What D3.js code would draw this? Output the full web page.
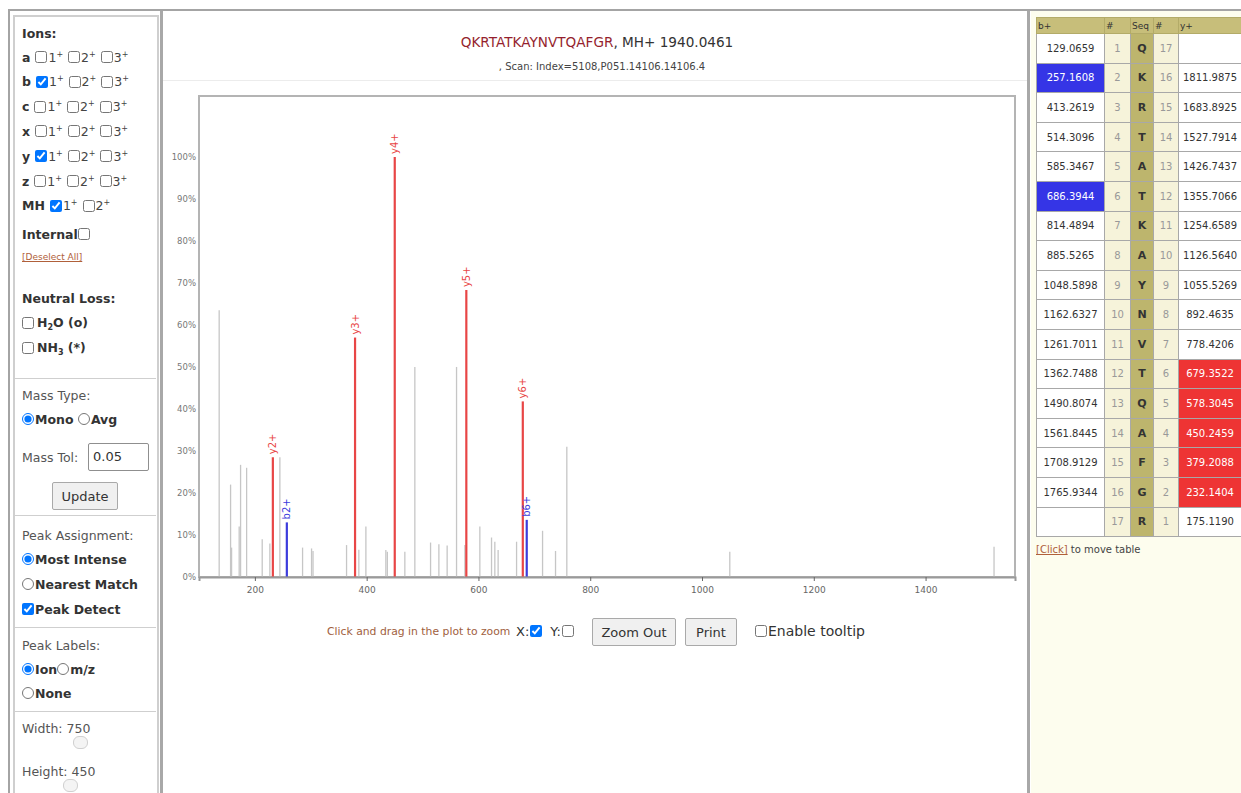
<!DOCTYPE html>
<html><head><meta charset="utf-8">
<script src="https://cdn.jsdelivr.net/npm/d3@7"></script>
<style>
body{margin:0;width:1241px;height:793px;overflow:hidden;background:#fff;font-family:"DejaVu Sans",sans-serif;position:relative;color:#333;}
.abs{position:absolute;}
.row{position:absolute;left:22px;height:18px;display:flex;align-items:center;font-size:12.5px;white-space:nowrap;}
.row input[type=checkbox],.row input[type=radio]{width:12px;height:12px;margin:0 1px 0 0;}
.b{font-weight:bold;}
sup{font-size:8px;vertical-align:5px;margin-right:5px;}
sub{font-size:8px;vertical-align:-3px;}
.div{position:absolute;left:14px;width:142px;height:0;border-top:1px solid #cfcfcf;}
.btn{position:absolute;border:1px solid #a9a9a9;border-radius:2px;background:#f0f0f0;font-size:13px;display:flex;align-items:center;justify-content:center;color:#333;}
#tablewrap{position:absolute;left:1036px;top:17px;width:205px;height:530px;overflow:hidden;}
table.frag{border-collapse:collapse;table-layout:fixed;font-size:10px;width:205px;}
table.frag td{border:1px solid #a8a8a8;text-align:center;padding:0;height:28.6px;overflow:hidden;white-space:nowrap;}
table.frag tr.hd td{height:15px;background:#c7be7a;text-align:left;font-size:9px;border-color:#b3ab68;padding-left:1px;}
td.num{background:#f6f3da;color:#999;}
td.seq{background:#bdb56d;font-weight:bold;font-size:11px;color:#333;}
td.mass{background:#fff;color:#333;}
td.hb{background:#3535e6;color:#fff;}
td.hy{background:#ee3434;color:#fff;}
.knob{position:absolute;width:13px;height:11px;border:1px solid #d0d0d0;border-radius:6px;background:#f4f4f4;}
</style></head><body>

<!-- frame -->
<div class="abs" style="left:8px;top:9px;width:1240px;height:790px;border-top:2px solid #a4a4a4;border-left:2px solid #a4a4a4;"></div>
<div class="abs" style="left:1031px;top:11px;width:210px;height:782px;background:#fdfdee;"></div>
<div class="abs" style="left:160px;top:11px;width:3px;height:782px;background:#a8a8a8;"></div>
<div class="abs" style="left:1027px;top:11px;width:3px;height:782px;background:#a8a8a8;"></div>
<div class="abs" style="left:13px;top:15px;width:142px;height:790px;border:2px solid #cfcfcf;"></div>

<!-- left panel -->
<div class="row b" style="top:24px;">Ions:</div>
<div id="ionrows"></div>
<div class="row b" style="top:225px;">Internal<input type="checkbox"></div>
<div class="row" style="top:248px;font-size:9px;color:#b0603a;text-decoration:underline;">[Deselect All]</div>
<div class="row b" style="top:289px;">Neutral Loss:</div>
<div class="row b" style="top:314px;"><input type="checkbox" style="margin-right:3px"><span>H<sub>2</sub>O (o)</span></div>
<div class="row b" style="top:339px;"><input type="checkbox" style="margin-right:3px"><span>NH<sub>3</sub> (*)</span></div>
<div class="div" style="top:378px;"></div>
<div class="row" style="top:386px;color:#555;">Mass Type:</div>
<div class="row b" style="top:410px;"><input type="radio" name="mt" checked>Mono&nbsp;<input type="radio" name="mt">Avg</div>
<div class="row" style="top:448px;color:#555;">Mass Tol:</div>
<div class="abs" style="left:88px;top:443px;border:1px solid #8f8f8f;border-radius:2px;font-size:13px;line-height:26px;padding-left:4px;box-sizing:border-box;width:61px;height:28px;">0.05</div>
<div class="btn" style="left:52px;top:482px;width:64px;height:26px;">Update</div>
<div class="div" style="top:515px;"></div>
<div class="row" style="top:526px;color:#555;">Peak Assignment:</div>
<div class="row b" style="top:550px;"><input type="radio" name="pa" checked>Most Intense</div>
<div class="row b" style="top:575px;"><input type="radio" name="pa">Nearest Match</div>
<div class="row b" style="top:600px;"><input type="checkbox" checked>Peak Detect</div>
<div class="div" style="top:627px;"></div>
<div class="row" style="top:636px;color:#555;">Peak Labels:</div>
<div class="row b" style="top:660px;"><input type="radio" name="pl" checked>Ion<input type="radio" name="pl">m/z</div>
<div class="row b" style="top:684px;"><input type="radio" name="pl">None</div>
<div class="div" style="top:711px;"></div>
<div class="row" style="top:719px;color:#555;">Width: 750</div>
<div class="knob" style="left:73px;top:736px;"></div>
<div class="row" style="top:762px;color:#555;">Height: 450</div>
<div class="knob" style="left:63px;top:779px;"></div>

<svg id="chart" class="abs" style="left:0;top:0;" width="1241" height="793"></svg>

<!-- controls under plot -->
<div class="abs" style="left:327px;top:622px;height:18px;display:flex;align-items:center;font-size:10.8px;color:#a0603e;white-space:nowrap;">Click and drag in the plot to zoom</div>
<div class="abs" style="left:516px;top:622px;height:18px;display:flex;align-items:center;font-size:13px;color:#333;white-space:nowrap;">X:<input type="checkbox" checked style="width:12px;height:12px;margin:0 8px 0 1px;">Y:<input type="checkbox" style="width:12px;height:12px;margin:0 0 0 1px;"></div>
<div class="btn" style="left:592px;top:618px;width:82px;height:26px;">Zoom Out</div>
<div class="btn" style="left:685px;top:618px;width:50px;height:26px;">Print</div>
<div class="abs" style="left:755px;top:622px;height:18px;display:flex;align-items:center;font-size:14px;color:#333;white-space:nowrap;"><input type="checkbox" style="width:12px;height:12px;margin:0 1px 0 0;">Enable tooltip</div>

<div id="tablewrap"><table class="frag" id="frag"></table></div>
<div class="abs" style="left:1036px;top:544px;font-size:10px;color:#444;white-space:nowrap;"><span style="color:#b0603a;text-decoration:underline;">[Click]</span> to move table</div>

<script>
// ---------- data ----------
const sequence = ["Q","K","R","T","A","T","K","A","Y","N","V","T","Q","A","F","G","R"];
const bIons = [129.0659,257.1608,413.2619,514.3096,585.3467,686.3944,814.4894,885.5265,1048.5898,1162.6327,1261.7011,1362.7488,1490.8074,1561.8445,1708.9129,1765.9344,null];
const yIons = [null,1811.9875,1683.8925,1527.7914,1426.7437,1355.7066,1254.6589,1126.5640,1055.5269,892.4635,778.4206,679.3522,578.3045,450.2459,379.2088,232.1404,175.1190];
const matchedB = [2,6];          // b ion numbers matched
const matchedY = [2,3,4,5,6];    // y ion numbers matched

const peakMz  = [136.1,156.5,158.3,171.9,174.4,185.2,213.1,226.8,244.7,285.3,301.4,304.0,364.0,386.0,398.6,434.3,437.0,468.3,486.2,514.3,529.2,544.0,560.8,575.7,602.5,623.4,629.3,635.2,668.2,714.7,737.9,758.1,1049.7,1522.5];
const peakInt = [63.5,22,7,12,26.7,26,9,8,28.5,7,6.8,6.2,7.6,6.5,12,6.4,6,6,50,8.2,7.8,7.5,50,7.6,12,9.4,8.4,6.4,8.4,11,6.2,31,6,7.2];

const ionLabels = ["y2+","b2+","y3+","y4+","y5+","y6+","b6+"];
const ionMz     = [232.1404,257.1608,379.2088,450.2459,578.3045,679.3522,686.3944];
const ionInt    = [28.5,13,57,100,68.3,41.8,13.6];
const ionType   = ["y","b","y","y","y","y","b"];

const xTicks = [200,400,600,800,1000,1200,1400];
const yTicks = [0,10,20,30,40,50,60,70,80,90,100];

const ionSeries = ["a","b","c","x","y","z"];
const ionChecked = {b:[1],y:[1]};

// ---------- left panel ion rows ----------
const rowsDiv = d3.select("#ionrows");
ionSeries.concat(["MH"]).forEach((s,i)=>{
  const r = rowsDiv.append("div").attr("class","row").style("top",(48+i*24.8)+"px");
  r.append("span").attr("class","b").style("margin-right","5px").text(s);
  const charges = s==="MH"?[1,2]:[1,2,3];
  charges.forEach(c=>{
    const cb = r.append("input").attr("type","checkbox");
    if((s==="MH"&&c===1)||(ionChecked[s]&&ionChecked[s].includes(c))) cb.property("checked",true);
    r.append("span").style("color","#444").html(c+"<sup>+</sup>");
  });
});

// ---------- chart ----------
const svg = d3.select("#chart");
const x = d3.scaleLinear().domain([100,1560]).range([199,1015]);
const y = d3.scaleLinear().domain([0,114.5]).range([577,96]);
const color = {b:"#3c3cdc", y:"#e84646"};

// title
const t = svg.append("text").attr("x",597).attr("y",47).attr("text-anchor","middle")
  .style("font-size","13.6px");
t.append("tspan").attr("fill","#951f2e").text(sequence.join(""));
t.append("tspan").attr("fill","#333").text(", MH+ 1940.0461");
svg.append("text").attr("x",602).attr("y",70).attr("text-anchor","middle")
  .style("font-size","10px").attr("fill","#444").text(", Scan: Index=5108,P051.14106.14106.4");
svg.append("line").attr("x1",163).attr("x2",1027).attr("y1",80.5).attr("y2",80.5).attr("stroke","#ececec");

// frame
svg.append("rect").attr("x",x.range()[0]).attr("y",y.range()[1]).attr("width",x.range()[1]-x.range()[0])
  .attr("height",y.range()[0]-y.range()[1]).attr("fill","#fff").attr("stroke","#b4b4b4").attr("stroke-width",2);

// gray peaks
svg.append("g").selectAll("line").data(peakMz).join("line")
  .attr("x1",d=>x(d)).attr("x2",d=>x(d)).attr("y1",y(0)).attr("y2",(d,i)=>y(peakInt[i]))
  .attr("stroke","#c6c6c6").attr("stroke-width",1.3);

// matched peaks
const ions = ionMz.map((m,i)=>({mz:m,int:ionInt[i],label:ionLabels[i],type:ionType[i]}));
svg.append("g").selectAll("line").data(ions).join("line")
  .attr("x1",d=>x(d.mz)).attr("x2",d=>x(d.mz)).attr("y1",y(0)).attr("y2",d=>y(d.int))
  .attr("stroke",d=>color[d.type]).attr("stroke-width",2.2);
svg.append("g").selectAll("text").data(ions).join("text")
  .attr("transform",d=>`translate(${x(d.mz)},${y(d.int)-3}) rotate(-90)`)
  .attr("dominant-baseline","central").attr("text-anchor","start")
  .style("font-size","10px").attr("fill",d=>color[d.type]).text(d=>d.label);

// axes
const xa = svg.append("g").attr("transform",`translate(0,${y(0)})`)
  .call(d3.axisBottom(x).tickValues(xTicks).tickSize(4).tickPadding(6).tickFormat(d3.format("d")));
xa.select(".domain").attr("stroke","#9a9a9a").attr("stroke-width",2);
xa.selectAll(".tick line").attr("stroke","#666");
xa.selectAll("text").style("font-size","9px").attr("fill","#666").style("font-family","DejaVu Sans");

const ya = svg.append("g").attr("transform",`translate(${x.range()[0]-1},0)`)
  .call(d3.axisLeft(y).tickValues(yTicks).tickSize(0).tickPadding(2).tickFormat(d=>d+"%"));
ya.select(".domain").remove();
ya.selectAll("text").style("font-size","8.5px").attr("fill","#777").style("font-family","DejaVu Sans");

// ---------- fragment table ----------
const tbl = d3.select("#frag");
const cg = tbl.append("colgroup");
[68,26,23,25,63].forEach(w=>cg.append("col").style("width",w+"px"));
const hd = tbl.append("tr").attr("class","hd");
["b+","#","Seq","#","y+"].forEach(h=>hd.append("td").text(h));
sequence.forEach((aa,i)=>{
  const tr = tbl.append("tr");
  const bn = i+1, yn = sequence.length - i;
  tr.append("td").attr("class","mass"+(matchedB.includes(bn)?" hb":"")).text(bIons[i]==null?"":bIons[i].toFixed(4));
  tr.append("td").attr("class","num").text(bn);
  tr.append("td").attr("class","seq").text(aa);
  tr.append("td").attr("class","num").text(yn);
  tr.append("td").attr("class","mass"+(matchedY.includes(yn)?" hy":"")).text(yIons[i]==null?"":yIons[i].toFixed(4));
});
</script>
</body></html>
